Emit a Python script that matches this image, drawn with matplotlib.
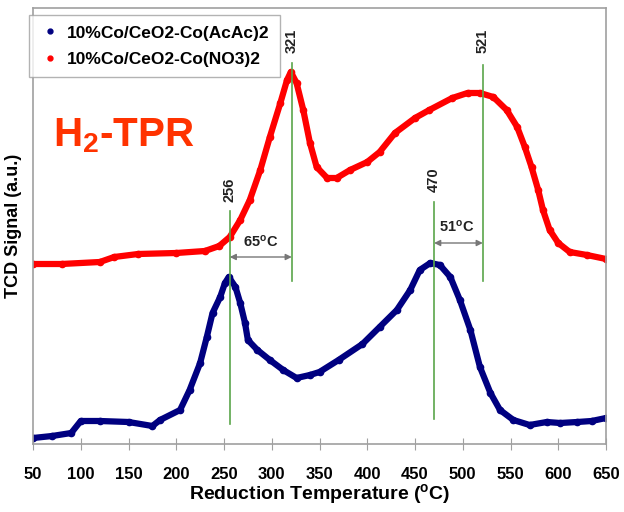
import matplotlib
matplotlib.use("Agg")
import matplotlib.pyplot as plt

plt.rcParams["font.family"] = ["Liberation Sans", "DejaVu Sans"]
plt.rcParams["font.weight"] = "bold"
plt.rcParams["mathtext.fontset"] = "custom"
plt.rcParams["mathtext.rm"] = "Liberation Sans:bold"
plt.rcParams["mathtext.bf"] = "Liberation Sans:bold"
plt.rcParams["mathtext.it"] = "Liberation Sans:bold"
plt.rcParams["mathtext.default"] = "bf"

# Series (temperature in degC, signal in a.u.)
acac_temp = [50, 70, 90, 100, 120, 150, 175, 183, 204, 214, 225, 232, 238, 246,
             251, 255, 262, 267, 272, 275, 285, 298, 312, 326, 340, 350, 370,
             395, 413, 431, 445, 455, 466, 476, 487, 497, 508, 518, 529, 539,
             553, 570, 588, 602, 620, 635, 650]
acac_signal = [6, 8, 11, 23, 23, 22, 18, 24, 34, 54, 81, 107, 131, 147,
               161, 167, 157, 141, 121, 104, 94, 84, 74, 66, 69, 72, 84,
               100, 117, 134, 154, 174, 181, 179, 167, 144, 114, 77, 51, 34,
               24, 19, 22, 21, 22, 23, 26]

no3_temp = [50, 80, 120, 135, 160, 200, 230, 245, 256, 267, 277, 288, 298, 309,
            316, 320, 326, 333, 340, 347, 358, 368, 382, 400, 413, 429, 450,
            465, 489, 505, 518, 532, 546, 557, 565, 572, 579, 584, 591, 600,
            612, 630, 650]
no3_signal = [180, 180, 182, 187, 190, 191, 193, 198, 207, 224, 244, 274, 307, 341,
              364, 372, 361, 334, 301, 277, 266, 266, 274, 282, 292, 311, 326,
              334, 346, 351, 351, 347, 334, 317, 297, 277, 254, 234, 214, 201,
              192, 189, 185]

series_labels = ["10%Co/CeO2-Co(AcAc)2", "10%Co/CeO2-Co(NO3)2"]
x_ticks = [50, 100, 150, 200, 250, 300, 350, 400, 450, 500, 550, 600, 650]

# Peak markers: position, line bottom/top and label height
peak_temps = [256, 321, 470, 521]
peak_bottom = [20, 163, 25, 163]
peak_top = [233, 381, 242, 379]
peak_label_y = [254, 403, 264, 403]

# Peak shifts between the two samples
shift_pairs = [(256, 321), (470, 521)]
shift_arrow_y = [187, 201]
shift_text = ["65$^{o}$C", "51$^{o}$C"]
shift_text_pos = [(288, 202), (494, 217)]

blue = "#000080"
red = "#ff0000"
green = "#5aa64a"
spine_grey = "#a0a0a0"

fig = plt.figure(figsize=(6.24, 5.12), dpi=100)
ax = fig.add_axes([33 / 624, 68 / 512, 573 / 624, 436 / 512])

ax.plot(acac_temp, acac_signal, color=blue, lw=4.5, marker="o", ms=4.5,
        label=series_labels[0], solid_capstyle="round", solid_joinstyle="round")
ax.plot(no3_temp, no3_signal, color=red, lw=4.5, marker="o", ms=4.5,
        label=series_labels[1], solid_capstyle="round", solid_joinstyle="round")

for t, b, top, ly in zip(peak_temps, peak_bottom, peak_top, peak_label_y):
    ax.plot([t, t], [b, top], color=green, lw=1.2, zorder=3)
    ax.text(t, ly, str(t), rotation=90, ha="center", va="center",
            fontsize=10.5, fontweight="bold", color="#222222")

for (t0, t1), y, s, (tx, ty) in zip(shift_pairs, shift_arrow_y, shift_text,
                                    shift_text_pos):
    ax.annotate("", xy=(t0, y), xytext=(t1, y),
                arrowprops=dict(arrowstyle="<|-|>", color="#777777", lw=1,
                                mutation_scale=9, shrinkA=0, shrinkB=0))
    ax.text(tx, ty, s, ha="center", va="center", fontsize=10.5,
            color="#222222")

ax.text(0.035, 0.708, "H$_{2}$-TPR", transform=ax.transAxes, fontsize=29,
        color="#ff3300", fontweight="bold", ha="left", va="center")

ax.set_xlim(50, 650)
ax.set_ylim(0, 436)
ax.set_xticks(x_ticks)
ax.set_yticks([])
ax.tick_params(axis="x", direction="inout", length=9, color=spine_grey,
               labelsize=12, pad=12)
for lab in ax.get_xticklabels():
    lab.set_fontweight("bold")
for sp in ax.spines.values():
    sp.set_color(spine_grey)
    sp.set_linewidth(1.2)

ax.set_xlabel("Reduction Temperature ($^{o}$C)", fontsize=14,
              fontweight="bold", labelpad=0)
ax.set_ylabel("TCD Signal (a.u.)", fontsize=13, fontweight="bold", labelpad=8)

handles = [
    plt.Line2D([], [], ls="none", marker="o", ms=3.5, color=blue),
    plt.Line2D([], [], ls="none", marker="o", ms=3.5, color=red),
]
leg = ax.legend(handles, series_labels, loc="upper left",
                bbox_to_anchor=(29 / 624, 1 - 15 / 512),
                bbox_transform=fig.transFigure, borderaxespad=0,
                prop={"weight": "bold", "size": 12.5}, fancybox=False,
                handletextpad=0.4, handlelength=1.2, borderpad=0.6,
                labelspacing=0.65)
leg.get_frame().set_edgecolor(spine_grey)
leg.get_frame().set_linewidth(1)

fig.savefig("out.png", dpi=100)
